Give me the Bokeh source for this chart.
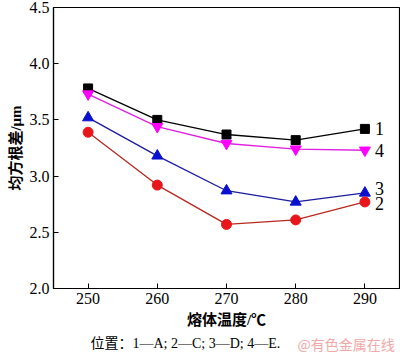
from bokeh.plotting import figure
from bokeh.layouts import column
from bokeh.models import Range1d, FixedTicker, CustomJSTickFormatter
from bokeh.core.properties import value
from bokeh.embed import file_html
from bokeh.resources import INLINE

temps = [250, 260, 270, 280, 290]
s1 = [3.78, 3.50, 3.37, 3.32, 3.42]
s2 = [3.39, 2.92, 2.57, 2.61, 2.77]
s3 = [3.52, 3.18, 2.87, 2.77, 2.85]
s4 = [3.73, 3.44, 3.29, 3.24, 3.23]
series_labels = ["1", "2", "3", "4"]
x_ticks = [250, 260, 270, 280, 290]
y_ticks = [2.0, 2.5, 3.0, 3.5, 4.0, 4.5]
caption = "位置：1—A; 2—C; 3—D; 4—E."
watermark = "@有色金属在线"

SERIF = "Liberation Serif, serif"
MIXED = "Liberation Serif, Noto Sans CJK SC"

p = figure(width=400, height=334, output_backend="svg", toolbar_location=None,
           x_range=Range1d(245, 295), y_range=Range1d(2.0, 4.5),
           min_border_left=53, min_border_right=1, min_border_top=7, min_border_bottom=46)
p.grid.visible = False
p.outline_line_color = "black"
p.outline_line_width = 1.2
p.background_fill_color = "white"
p.border_fill_color = "white"

for ax in (p.xaxis[0], p.yaxis[0]):
    ax.major_tick_in = 5
    ax.major_tick_out = 0
    ax.minor_tick_in = 0
    ax.minor_tick_out = 0
    ax.axis_line_color = "black"
    ax.axis_line_width = 1.2
    ax.major_label_text_font = SERIF
    ax.major_label_text_font_size = "16px"
    ax.major_label_text_color = "black"
    ax.axis_label_text_font = MIXED
    ax.axis_label_text_font_style = "bold"
    ax.axis_label_text_font_size = "15px"
    ax.axis_label_text_color = "black"

p.xaxis.ticker = FixedTicker(ticks=x_ticks)
p.yaxis.ticker = FixedTicker(ticks=y_ticks)
p.yaxis.formatter = CustomJSTickFormatter(code="return tick.toFixed(1);")
p.xaxis.major_label_standoff = 4
p.yaxis.major_label_standoff = 4
p.xaxis.axis_label = "熔体温度/℃"
p.xaxis.axis_label_standoff = 5
p.yaxis.axis_label = "均方根差/μm"
p.yaxis.axis_label_standoff = 3

# series
p.line(temps, s1, line_color="black", line_width=1.3)
p.scatter(temps, s1, marker="square", size=9, fill_color="black", line_color="black")

p.line(temps, s4, line_color="#e020e0", line_width=1.3)
p.scatter(temps, s4, marker="inverted_triangle", size=11, fill_color="#ff00ff", line_color="#ff00ff")

p.line(temps, s3, line_color="#1c1c9c", line_width=1.3)
p.scatter(temps, s3, marker="triangle", size=11, fill_color="#0a10d0", line_color="#0a10d0")

p.line(temps, s2, line_color="#b8281e", line_width=1.3)
p.scatter(temps, s2, marker="circle", size=10, fill_color="#e8161b", line_color="#e8161b")

last_x = [temps[-1]] * 4
last_y = [s1[-1], s2[-1], s3[-1], s4[-1]]
p.text(last_x, last_y, text=series_labels, x_offset=[10, 10, 10, 10], y_offset=[0, 2, -4, 0],
       text_font=value("Liberation Serif"), text_font_size="18px", text_baseline="middle",
       text_align="left", text_color="black")

# caption strip (its frame is aligned with the main frame: pixels 53..399)
c = figure(width=400, height=18, output_backend="svg", toolbar_location=None,
           x_range=Range1d(53, 399), y_range=Range1d(0, 18),
           min_border=0, min_border_left=53, min_border_right=1, min_border_top=0, min_border_bottom=0)
c.axis.visible = False
c.grid.visible = False
c.outline_line_color = None
c.background_fill_color = "white"
c.border_fill_color = "white"
c.text([90], [9], text=[caption], text_font=value(MIXED), text_font_size="14px",
       text_baseline="middle", text_align="left", text_color="black")
c.text([297], [9], text=[watermark], text_font=value("Noto Sans CJK SC"), text_font_size="14px",
       text_baseline="middle", text_align="left", text_color="#f2a8a8")

layout = column(p, c, spacing=0)
open("out.html", "w").write(file_html(layout, INLINE))
